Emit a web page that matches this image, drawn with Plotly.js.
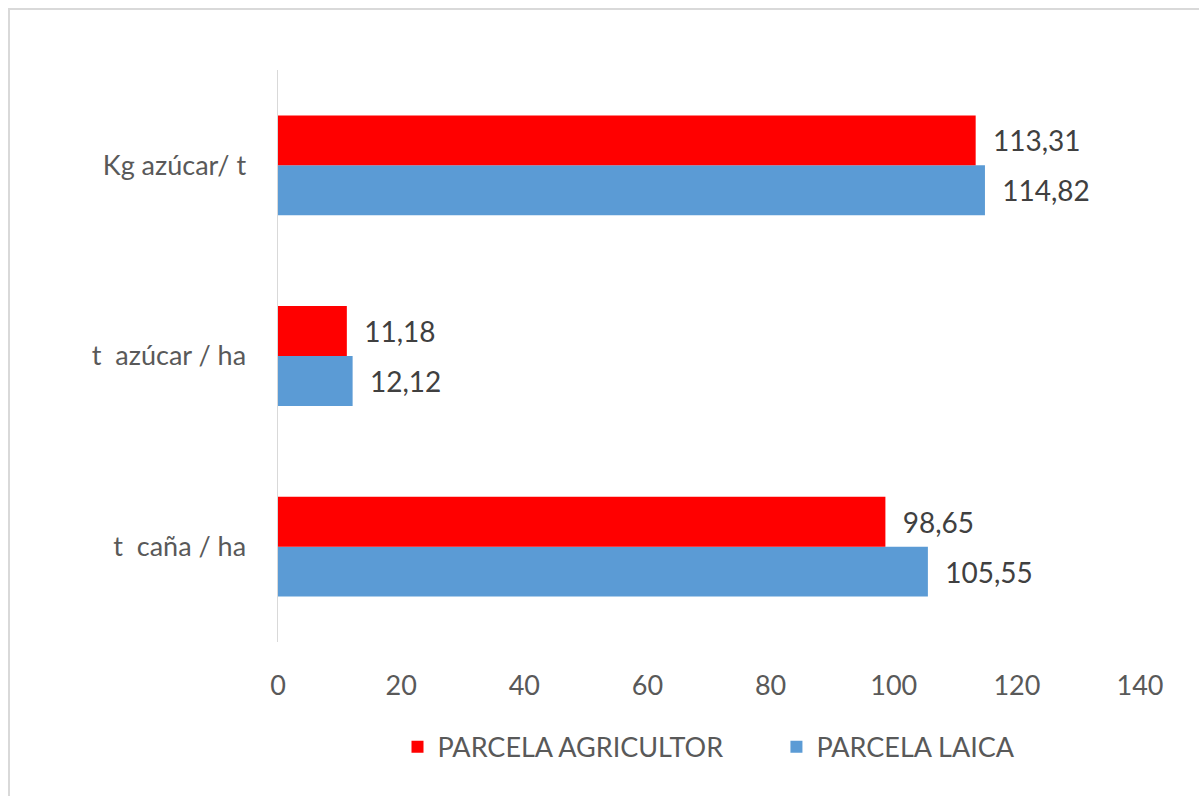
<!DOCTYPE html>
<html>
<head>
<meta charset="utf-8">
<script src="https://cdn.plot.ly/plotly-3.0.1.min.js"></script>
<style>
html,body{margin:0;padding:0;background:#fff;}
#wrap{position:relative;width:1199px;height:796px;overflow:hidden;}
#chart{width:1199px;height:796px;}
#frame{position:absolute;left:8px;top:8px;width:1300px;height:900px;border-left:2px solid #d9d9d9;border-top:2px solid #d9d9d9;pointer-events:none;}
</style>
</head>
<body>
<div id="wrap"><div id="chart"></div><div id="frame"></div></div>
<script>
const categories = ['t  caña / ha', 't  azúcar / ha', 'Kg azúcar/ t'];
const seriesNames = ['PARCELA AGRICULTOR', 'PARCELA LAICA'];
const agricultor = [98.65, 11.18, 113.31];
const laica = [105.55, 12.12, 114.82];
const xTicks = [0, 20, 40, 60, 80, 100, 120, 140];

const fmt = v => '\u00a0\u00a0' + v.toFixed(2).replace('.', ',');
const labelFont = {family: 'Lato, "Open Sans", sans-serif', size: 28, color: '#404040'};
const legendPad = '\u00a0'.repeat(7);

const traces = [
  {
    type: 'bar', orientation: 'h', name: seriesNames[1],
    y: categories, x: laica, text: laica.map(fmt),
    textposition: 'outside', textfont: labelFont, cliponaxis: false,
    marker: {color: '#5b9bd5'}, legendrank: 2, hoverinfo: 'x+y'
  },
  {
    type: 'bar', orientation: 'h', name: seriesNames[0] + legendPad,
    y: categories, x: agricultor, text: agricultor.map(fmt),
    textposition: 'outside', textfont: labelFont, cliponaxis: false,
    marker: {color: '#ff0000'}, legendrank: 1, hoverinfo: 'x+y'
  }
];

const layout = {
  width: 1199, height: 796,
  margin: {l: 278, r: 59, t: 69.5, b: 153.5},
  paper_bgcolor: 'rgba(0,0,0,0)', plot_bgcolor: 'rgba(0,0,0,0)',
  barmode: 'group', bargap: 0.476, bargroupgap: 0,
  font: {family: 'Lato, "Open Sans", sans-serif', size: 27, color: '#595959'},
  xaxis: {
    range: [0, 140], tickvals: xTicks, ticktext: xTicks.map(String),
    showgrid: false, zeroline: false, showline: false,
    ticks: 'outside', ticklen: 20, tickcolor: 'rgba(0,0,0,0)',
    tickfont: {size: 27, color: '#595959'}, fixedrange: true
  },
  yaxis: {
    type: 'category', categoryorder: 'array', categoryarray: categories,
    showgrid: false, zeroline: false, showline: true, linecolor: '#d9d9d9', linewidth: 1.5,
    ticks: 'outside', ticklen: 25, tickcolor: 'rgba(0,0,0,0)',
    tickfont: {size: 27, color: '#595959'}, fixedrange: true
  },
  showlegend: true,
  legend: {
    orientation: 'h', x: 0.5, xanchor: 'center', y: -0.184, yanchor: 'middle',
    font: {size: 27, color: '#595959'}, itemwidth: 30, traceorder: 'normal'
  }
};

Plotly.newPlot('chart', traces, layout, {displayModeBar: false, staticPlot: true});
</script>
</body>
</html>
